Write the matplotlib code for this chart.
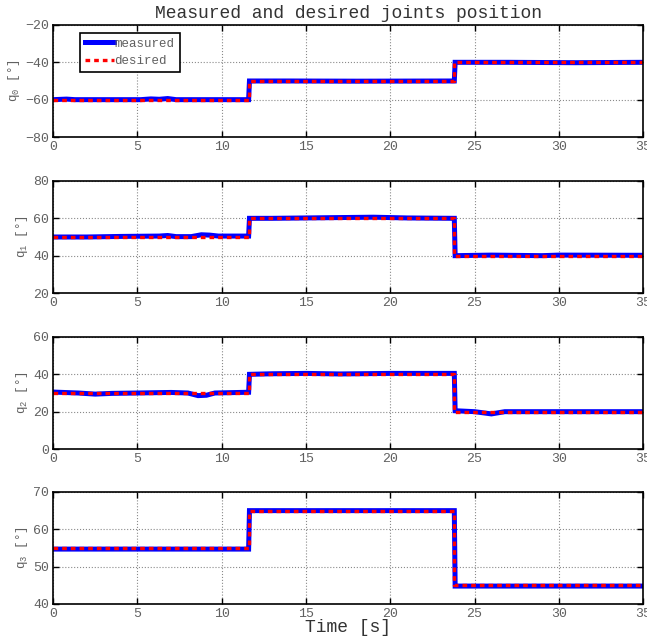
import matplotlib
matplotlib.use("Agg")
import matplotlib.pyplot as plt

plt.rcParams['font.family'] = ['Liberation Mono', 'DejaVu Sans Mono']
plt.rcParams['mathtext.fontset'] = 'custom'
plt.rcParams['mathtext.rm'] = 'Liberation Mono'
plt.rcParams['mathtext.it'] = 'Liberation Mono'

# Step instants of the reference trajectory [s]
step_times = [11.6, 23.8]
t_end = 35

# Desired joint positions for each segment [deg]
desired_q0 = [-60, -50, -40]
desired_q1 = [50, 60, 40]
desired_q2 = [30, 40, 20]
desired_q3 = [55, 65, 45]

# Measured joint positions (time [s], value [deg])
meas_t_q0 = [0, 0.8, 1.3, 5.2, 5.8, 6.3, 6.8, 7.3, 11.6, 11.65, 14, 18, 23.8, 23.85, 27, 31, 35]
meas_v_q0 = [-60, -59.7, -60, -60, -59.6, -59.8, -59.4, -60, -60, -50, -50, -50.1, -50, -40, -40, -40.2, -40]

meas_t_q1 = [0, 2, 4, 6.3, 6.8, 7.3, 8.2, 8.8, 9.3, 9.8, 11.6, 11.65, 13, 16, 19, 21, 23.8, 23.85, 26, 29, 30, 35]
meas_v_q1 = [50, 50, 50.3, 50.5, 50.8, 50.2, 50.2, 51.2, 51, 50.5, 50.5, 60, 60, 60.3, 60.6, 60.2, 60, 40, 40.3, 40, 40.3, 40.2]

meas_t_q2 = [0, 1.5, 2.5, 3.5, 5, 7, 8, 8.6, 9.1, 9.6, 11.6, 11.65, 13, 15, 17, 20, 23.8, 23.85, 25, 26, 26.8, 30, 35]
meas_v_q2 = [30.5, 30, 29.4, 29.8, 30, 30.3, 30, 28.6, 28.8, 30, 30.4, 40, 40.3, 40.5, 40.2, 40.5, 40.5, 20.5, 20, 18.8, 20, 20, 20]

meas_t_q3 = [0, 11.6, 11.65, 23.8, 23.85, 35]
meas_v_q3 = [54.7, 54.7, 65, 65, 44.8, 44.8]

y_ticks = [[-80, -60, -40, -20], [20, 40, 60, 80], [0, 20, 40, 60], [40, 50, 60, 70]]
x_ticks = [0, 5, 10, 15, 20, 25, 30, 35]

desired = [desired_q0, desired_q1, desired_q2, desired_q3]
measured = [(meas_t_q0, meas_v_q0), (meas_t_q1, meas_v_q1),
            (meas_t_q2, meas_v_q2), (meas_t_q3, meas_v_q3)]


def step_profile(levels):
    ts, vs = [0], [levels[0]]
    for k, ts_k in enumerate(step_times):
        ts += [ts_k, ts_k]
        vs += [levels[k], levels[k + 1]]
    ts.append(t_end)
    vs.append(levels[-1])
    return ts, vs


fig = plt.figure(figsize=(6.47, 6.42), dpi=100)
left, width, height = 0.082, 0.912, 0.1745
bottoms = [0.7866, 0.5436, 0.3006, 0.0592]
tick_color = '#606060'

for i in range(4):
    ax = fig.add_axes([left, bottoms[i], width, height])
    mt, mv = measured[i]
    ax.plot(mt, mv, color='#0000ff', lw=3.6, label='measured', solid_joinstyle='miter')
    dt, dv = step_profile(desired[i])
    ax.plot(dt, dv, color='#ff0000', lw=2.4, ls=(0, (1.4, 1.2)), label='desired')
    ax.set_xlim(0, t_end)
    ax.set_ylim(y_ticks[i][0], y_ticks[i][-1])
    ax.set_xticks(x_ticks)
    ax.set_yticks(y_ticks[i])
    ax.grid(True, ls=':', color='#8a8a8a', lw=0.8)
    ax.tick_params(direction='in', top=True, right=True, labelsize=9.5,
                   labelcolor=tick_color, length=4, width=1, color='black', pad=3)
    for s in ax.spines.values():
        s.set_linewidth(1.2)
    ax.set_ylabel('q$_{%d}$ [°]' % i, fontsize=9, color=tick_color, labelpad=2)
    if i == 0:
        ax.set_title('Measured and desired joints position', fontsize=13,
                     color='#333333', pad=5)
        leg = ax.legend(loc='upper left', bbox_to_anchor=(0.046, 0.93),
                        fontsize=9, handlelength=2.3, handletextpad=0.05,
                        borderpad=0.4, labelspacing=0.45, borderaxespad=0,
                        fancybox=False, framealpha=1, edgecolor='black')
        leg.get_frame().set_linewidth(1.2)
        for txt in leg.get_texts():
            txt.set_color(tick_color)
    if i == 3:
        ax.set_xlabel('Time [s]', fontsize=13, color='#333333', labelpad=-1)

fig.savefig('out.png', dpi=100)
